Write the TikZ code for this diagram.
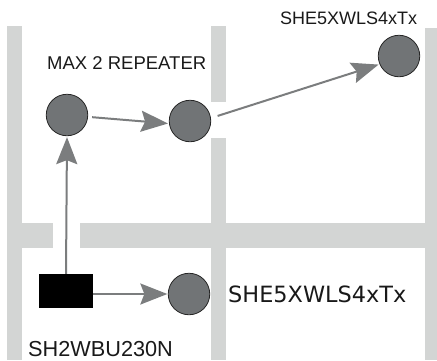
\documentclass[tikz,border=0pt]{standalone}
\usepackage{fontspec}
\setmainfont{Liberation Sans}
\newfontfamily\dejavu{DejaVu Sans}
\usetikzlibrary{arrows.meta}
\definecolor{wallgray}{HTML}{D3D5D4}
\definecolor{linegray}{HTML}{7B7D7E}
\definecolor{devgray}{HTML}{717476}
\begin{document}
\begin{tikzpicture}[x=1pt,y=-1pt,
  wall/.style={fill=wallgray,draw=none},
  dev/.style={circle,fill=devgray,draw=black!85,line width=0.8pt,minimum size=41.5pt,inner sep=0pt},
  hub/.style={rectangle,fill=black,draw=none,minimum width=54pt,minimum height=34pt,inner sep=0pt},
  conn/.style={draw=linegray,line width=2pt,-{Stealth[length=27pt,width=21pt,inset=4pt,fill=linegray]}},
  lbl/.style={inner sep=0pt,anchor=base west,text=black!90,text depth=0pt}]
\useasboundingbox (0,0) rectangle (437,360);
% walls
\fill[wall] (7,26) rectangle (22,360);
\fill[wall] (211,26) rectangle (226,102);
\fill[wall] (211,138) rectangle (226,360);
\fill[wall] (425,28) rectangle (440,360);
\fill[wall] (22,223) rectangle (53,248);
\fill[wall] (80,223) rectangle (425,248);
% devices
\node[dev] (A) at (67,115) {};
\node[dev] (B) at (190,121) {};
\node[dev] (C) at (399,56) {};
\node[dev] (D) at (189,294) {};
\node[hub] (R) at (66,291) {};
% labels
\node[lbl,font=\fontsize{18.5}{20}\selectfont] (tA) at (47,69) {MAX 2 REPEATER};
\node[lbl,font=\fontsize{18}{20}\selectfont] (tC) at (280,24) {SHE5XWLS4xTx};
\node[lbl,font=\fontsize{21.7}{24}\selectfont] (tR) at (28,356) {SH2WBU230N};
\node[lbl,font=\dejavu\fontsize{22.4}{24}\selectfont] (tD) at (228,302) {SHE5XWLS4xTx};
% connectors
\draw[conn,shorten <=4pt,shorten >=1pt] (A.-5) -- (B.187);
\draw[conn,shorten <=7pt,shorten >=1pt] (B.8) -- (C.203);
\draw[conn,shorten >=1pt] (R.north) -- (A.south);
\draw[conn,shorten >=0.5pt] (D.west -| R.east) -- (D.west);
\end{tikzpicture}
\end{document}
